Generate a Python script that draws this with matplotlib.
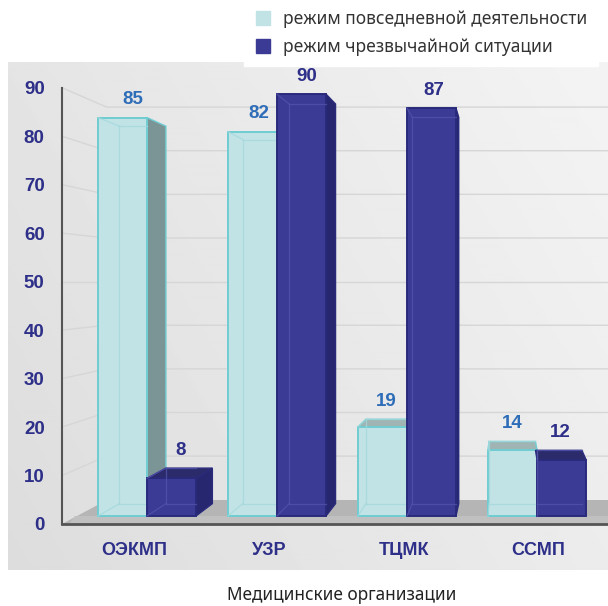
import matplotlib

matplotlib.use("Agg")
import matplotlib.pyplot as plt
import numpy as np
from matplotlib.lines import Line2D
from matplotlib.patches import Polygon

# data
categories = ["ОЭКМП", "УЗР", "ТЦМК", "ССМП"]
everyday = [85, 82, 19, 14]
emergency = [8, 90, 87, 12]
series_names = ["режим повседневной деятельности", "режим чрезвычайной ситуации"]
yticks = [0, 10, 20, 30, 40, 50, 60, 70, 80, 90]
xlabel = "Медицинские организации"

# fake 3D projection settings (vanishing point in data units)
VX, VY = 2.77, 50.0
S_FRONT = 0.967
S_BACK = 0.916
S_WALL = 0.90
BAR_W = 0.377
XMIN, XMAX = -0.54, 3.52
YMAX = 95.3

NAVY = "#2d2f88"
STYLE = {
    "light": dict(front="#c1e3e6", edge="#6fcdd2", side="#7b9496", top="#9fb4b3",
                  inner="#a3d9dc", label="#2e6db8"),
    "dark": dict(front="#3b3b96", edge="#2a2a7c", side="#27276f", top="#2b2b6c",
                 inner="#5252aa", label=NAVY),
}


def P(x, y, s):
    return (VX + (x - VX) * s, VY + (y - VY) * s)


def draw_bar(ax, x0, x1, v, st, z):
    fb = [P(x0, 0, S_FRONT), P(x1, 0, S_FRONT), P(x1, v, S_FRONT), P(x0, v, S_FRONT)]
    bb = [P(x0, 0, S_BACK), P(x1, 0, S_BACK), P(x1, v, S_BACK), P(x0, v, S_BACK)]
    # right side
    if x1 < VX:
        side = [fb[1], fb[2], bb[2], bb[1]]
        ax.add_patch(Polygon(side, closed=True, facecolor=st["side"],
                             edgecolor=st["edge"], lw=1, zorder=z))
    # top, only when seen from above
    if v < VY:
        top = [fb[3], fb[2], bb[2], bb[3]]
        ax.add_patch(Polygon(top, closed=True, facecolor=st["top"],
                             edgecolor=st["edge"], lw=1, zorder=z))
    ax.add_patch(Polygon(fb, closed=True, facecolor=st["front"],
                         edgecolor=st["edge"], lw=1.4, zorder=z + 0.1))
    # back edges seen through the glass (only inside the front face)
    xl, xr = fb[0][0], fb[1][0]
    for a, b in [(bb[0], bb[3]), (bb[3], bb[2]), (bb[0], bb[1]),
                 (fb[3], bb[3]), (fb[0], bb[0])]:
        xs = np.clip([a[0], b[0]], xl, xr)
        ax.plot(xs, [a[1], b[1]], color=st["inner"], lw=0.9,
                alpha=0.8, zorder=z + 0.2)
    # value label
    xm = P((x0 + x1) / 2, v, (S_FRONT + S_BACK) / 2)[0]
    ytop = max(fb[3][1], bb[3][1])
    ax.text(xm, ytop + 3.7, str(v), ha="center", va="center", fontsize=13.5,
            fontweight="bold", color=st["label"], family="Liberation Sans",
            zorder=20)


fig = plt.figure(figsize=(6.08, 6.06), dpi=100)
W, H = 608, 606

# grey panel behind the chart
bg = fig.add_axes([8 / W, (H - 570) / H, 600 / W, (570 - 62) / H], zorder=0)
gx, gy = np.meshgrid(np.linspace(0, 1, 200), np.linspace(0, 1, 200))
grad = 0.865 + 0.06 * gx + 0.03 * (1 - gy)
bg.imshow(grad, cmap="gray", vmin=0, vmax=1, aspect="auto", extent=(0, 1, 0, 1))
bg.axis("off")

ax = fig.add_axes([62 / W, (H - 524) / H, (W - 62) / W, (524 - 62) / H], zorder=1)
ax.patch.set_alpha(0)
ax.set_xlim(XMIN, XMAX)
ax.set_ylim(0, YMAX)

# back wall grid lines
for t in yticks[1:]:
    p0 = P(XMIN, t, 1.0)
    p1 = P(XMIN, t, S_WALL)
    ax.plot([p0[0], p1[0], XMAX], [p0[1], p1[1], p1[1]], color="#d6d6d6",
            lw=1, zorder=1, clip_on=False)

# floor
fy = P(XMIN, 0, S_WALL)
floor = [P(XMIN, 0, 1.0), (XMAX, 0), (XMAX, fy[1]), fy]
ax.add_patch(Polygon(floor, closed=True, facecolor="#b5b5b5", edgecolor="none",
                     zorder=2))
strip_y = P(0, 0, S_FRONT)[1]
ax.add_patch(Polygon([(XMIN + 0.05, 0), (XMAX, 0), (XMAX, strip_y),
                      (XMIN + 0.1, strip_y)], closed=True, facecolor="#c0c0c0",
                     edgecolor="none", zorder=2))

z = 3
for i in range(len(categories)):
    draw_bar(ax, i - BAR_W, i, everyday[i], STYLE["light"], z)
    draw_bar(ax, i, i + BAR_W, emergency[i], STYLE["dark"], z + 1)
    z += 2

# axes look
for sp in ["top", "right"]:
    ax.spines[sp].set_visible(False)
ax.spines["left"].set_bounds(0, 90)
ax.spines["left"].set_color("#555555")
ax.spines["left"].set_linewidth(1.5)
ax.spines["bottom"].set_color("#555555")
ax.spines["bottom"].set_linewidth(2)
ax.spines["bottom"].set_zorder(30)

ax.set_yticks(yticks)
ax.set_yticklabels([str(t) for t in yticks])
ax.set_xticks(range(len(categories)))
ax.set_xticklabels(categories)
ax.tick_params(axis="y", length=0, pad=12.5, labelsize=13.5, labelcolor=NAVY)
ax.tick_params(axis="x", length=0, pad=13, labelsize=13, labelcolor=NAVY)
for lab in ax.get_xticklabels() + ax.get_yticklabels():
    lab.set_fontweight("bold")
    lab.set_family("Liberation Sans")

fig.text(342 / W, 1 - 595 / H, xlabel, ha="center", va="center", fontsize=12.4,
         color="#222222", family="Noto Sans")

handles = [
    Line2D([], [], marker="s", linestyle="none", markersize=10,
           markerfacecolor=STYLE["light"]["front"], markeredgecolor=STYLE["light"]["front"]),
    Line2D([], [], marker="s", linestyle="none", markersize=10,
           markerfacecolor=STYLE["dark"]["front"], markeredgecolor=STYLE["dark"]["front"]),
]
leg = fig.legend(handles, series_names, loc="upper right",
                 bbox_to_anchor=((W - 10) / W, 1.0),
                 frameon=True, facecolor="white", edgecolor="white", framealpha=1,
                 fancybox=False, handlelength=0.9, handletextpad=0.75,
                 labelspacing=0.55, borderaxespad=0, borderpad=0.6,
                 prop={"family": "Noto Sans", "size": 12.5})
for t in leg.get_texts():
    t.set_color("#333333")
leg.set_zorder(40)

fig.savefig("out.png", dpi=100)
